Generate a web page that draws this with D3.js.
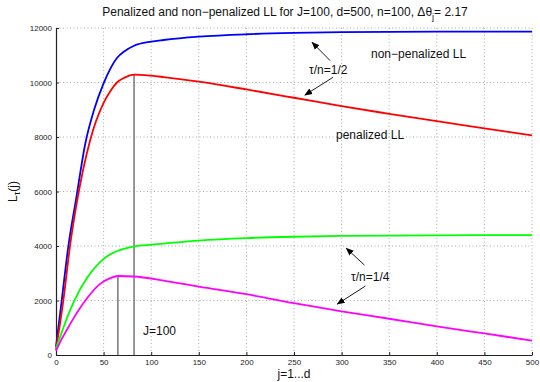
<!DOCTYPE html>
<html>
<head>
<meta charset="utf-8">
<script src="https://cdn.jsdelivr.net/npm/d3@7"></script>
<style>
  body { margin: 0; background: #fff; }
  svg { display: block; font-family: "Liberation Sans", Arial, Helvetica, sans-serif; }
</style>
</head>
<body>
<div id="chart"></div>
<script>
// values
const jBlue = [0, 6, 13, 21, 31, 40, 50, 57, 64, 72, 82, 100, 113, 150, 200, 250, 300, 400, 500];
const nonPenHalf = [300, 2000, 4000, 5700, 7800, 9000, 9970, 10500, 10900, 11150, 11350, 11500, 11560, 11680, 11770, 11820, 11850, 11870, 11870];

const jRed = [0, 7.7, 14.7, 22.4, 36, 50, 57, 64, 72, 82, 100, 113, 150, 200, 250, 300, 350, 400, 450, 500];
const penHalf = [200, 2000, 4000, 5700, 7900, 9250, 9680, 10000, 10180, 10290, 10250, 10200, 10030, 9745, 9440, 9130, 8850, 8580, 8320, 8060];

const jGreen = [0, 6, 12, 19, 33, 46, 57, 67, 82, 100, 113, 150, 200, 250, 300, 400, 500];
const nonPenQuarter = [250, 830, 1400, 1980, 2850, 3400, 3700, 3850, 3990, 4050, 4090, 4200, 4290, 4340, 4370, 4390, 4400];

const jMag = [0, 5, 11, 19, 22, 33, 46, 57, 65, 82, 113, 150, 200, 250, 300, 350, 400, 450, 500];
const penQuarter = [150, 520, 900, 1380, 1550, 2100, 2600, 2820, 2900, 2880, 2730, 2510, 2230, 1900, 1600, 1330, 1050, 790, 530];

const peakJ = [65, 82];
const peakVal = [2900, 10290];

const xTicks = [0, 50, 100, 150, 200, 250, 300, 350, 400, 450, 500];
const yTicks = [0, 2000, 4000, 6000, 8000, 10000, 12000];

const margin = { top: 28, right: 8, bottom: 27, left: 56 };
const W = 540, H = 382;
const width = W - margin.left - margin.right;
const height = H - margin.top - margin.bottom;

const svg = d3.select("#chart").append("svg")
  .attr("width", W)
  .attr("height", H);

const g = svg.append("g")
  .attr("transform", `translate(${margin.left},${margin.top})`);

const x = d3.scaleLinear().domain([0, 500]).range([0, width]);
const y = d3.scaleLinear().domain([0, 12000]).range([height, 0]);

// dotted grid
g.append("g").selectAll("line.gx")
  .data(xTicks.slice(1))
  .join("line")
    .attr("x1", d => x(d)).attr("x2", d => x(d))
    .attr("y1", 0).attr("y2", height)
    .attr("stroke", "#888")
    .attr("stroke-width", 0.7)
    .attr("stroke-dasharray", "1,2.5");

g.append("g").selectAll("line.gy")
  .data(yTicks.slice(1))
  .join("line")
    .attr("x1", 0).attr("x2", width)
    .attr("y1", d => y(d)).attr("y2", d => y(d))
    .attr("stroke", "#888")
    .attr("stroke-width", 0.7)
    .attr("stroke-dasharray", "1,2.5");

// axes, ticks pointing inwards like matlab
const xAxis = g.append("g")
  .attr("transform", `translate(0,${height})`)
  .call(d3.axisBottom(x).tickValues(xTicks).tickFormat(d3.format("d"))
    .tickSizeInner(-3).tickSizeOuter(0).tickPadding(4));
const yAxis = g.append("g")
  .call(d3.axisLeft(y).tickValues(yTicks).tickFormat(d3.format("d"))
    .tickSizeInner(-3).tickSizeOuter(0).tickPadding(4));

[xAxis, yAxis].forEach(a => {
  a.select(".domain").attr("stroke", "#222").attr("stroke-width", 1.2);
  a.selectAll(".tick line").attr("stroke", "#222");
  a.selectAll(".tick text")
    .attr("fill", "#222")
    .style("font-size", "8px")
    .style("font-family", "Liberation Sans, Arial, sans-serif");
});

// gray vertical markers at the peaks
g.append("g").selectAll("line.peak")
  .data(peakJ)
  .join("line")
    .attr("x1", d => x(d)).attr("x2", d => x(d))
    .attr("y1", y(0))
    .attr("y2", (d, i) => y(peakVal[i]))
    .attr("stroke", "#7f7f7f")
    .attr("stroke-width", 1.6);

const series = [
  { j: jBlue, v: nonPenHalf, color: "#0000ff" },
  { j: jRed, v: penHalf, color: "#ff0000" },
  { j: jGreen, v: nonPenQuarter, color: "#00ff00" },
  { j: jMag, v: penQuarter, color: "#ff00ff" }
];

const line = d3.line()
  .x(d => x(d[0]))
  .y(d => y(d[1]))
  .curve(d3.curveMonotoneX);

series.forEach(s => {
  g.append("path")
    .datum(s.j.map((j, i) => [j, s.v[i]]))
    .attr("fill", "none")
    .attr("stroke", s.color)
    .attr("stroke-width", 1.8)
    .attr("d", line);
});

// arrows
svg.append("defs").append("marker")
  .attr("id", "head")
  .attr("viewBox", "0 0 10 10")
  .attr("refX", 9).attr("refY", 5)
  .attr("markerWidth", 8).attr("markerHeight", 8)
  .attr("markerUnits", "userSpaceOnUse")
  .attr("orient", "auto")
  .append("path")
    .attr("d", "M0,1 L10,5 L0,9 Z")
    .attr("fill", "#000");

const arrows = [
  [288, 10800, 269, 11475],
  [291, 10190, 261.5, 9540],
  [324, 3300, 305, 3915],
  [325, 2530, 295.5, 1870]
];
g.append("g").selectAll("line.arrow")
  .data(arrows)
  .join("line")
    .attr("x1", d => x(d[0])).attr("y1", d => y(d[1]))
    .attr("x2", d => x(d[2])).attr("y2", d => y(d[3]))
    .attr("stroke", "#000")
    .attr("stroke-width", 0.9)
    .attr("marker-end", "url(#head)");

const notes = [
  { t: "non\u2212penalized LL", px: 371, py: 58 },
  { t: "\u03c4/n=1/2", px: 309, py: 74 },
  { t: "penalized LL", px: 336, py: 139 },
  { t: "\u03c4/n=1/4", px: 351, py: 281 },
  { t: "J=100", px: 143, py: 335 }
];
svg.append("g").selectAll("text.note")
  .data(notes)
  .join("text")
    .attr("x", d => d.px)
    .attr("y", d => d.py)
    .style("font-size", "12px")
    .attr("fill", "#111")
    .text(d => d.t);

// title
const title = svg.append("text")
  .attr("x", 285)
  .attr("y", 16)
  .attr("text-anchor", "middle")
  .style("font-size", "12px")
  .attr("fill", "#111");
title.append("tspan").text("Penalized and non\u2212penalized LL for J=100, d=500, n=100, \u0394\u03b8");
title.append("tspan").attr("dy", 4).style("font-size", "9px").text("j");
title.append("tspan").attr("dy", -4).text("= 2.17");

// axis labels
svg.append("text")
  .attr("x", margin.left + width / 2)
  .attr("y", 378)
  .attr("text-anchor", "middle")
  .style("font-size", "12px")
  .attr("fill", "#111")
  .text("j=1...d");

const yl = svg.append("text")
  .attr("transform", `translate(17,${margin.top + height / 2}) rotate(-90)`)
  .attr("text-anchor", "middle")
  .style("font-size", "12px")
  .attr("fill", "#111");
yl.append("tspan").text("L");
yl.append("tspan").attr("dy", 3).style("font-size", "9px").text("\u03c4");
yl.append("tspan").attr("dy", -3).text("(j)");
</script>
</body>
</html>
